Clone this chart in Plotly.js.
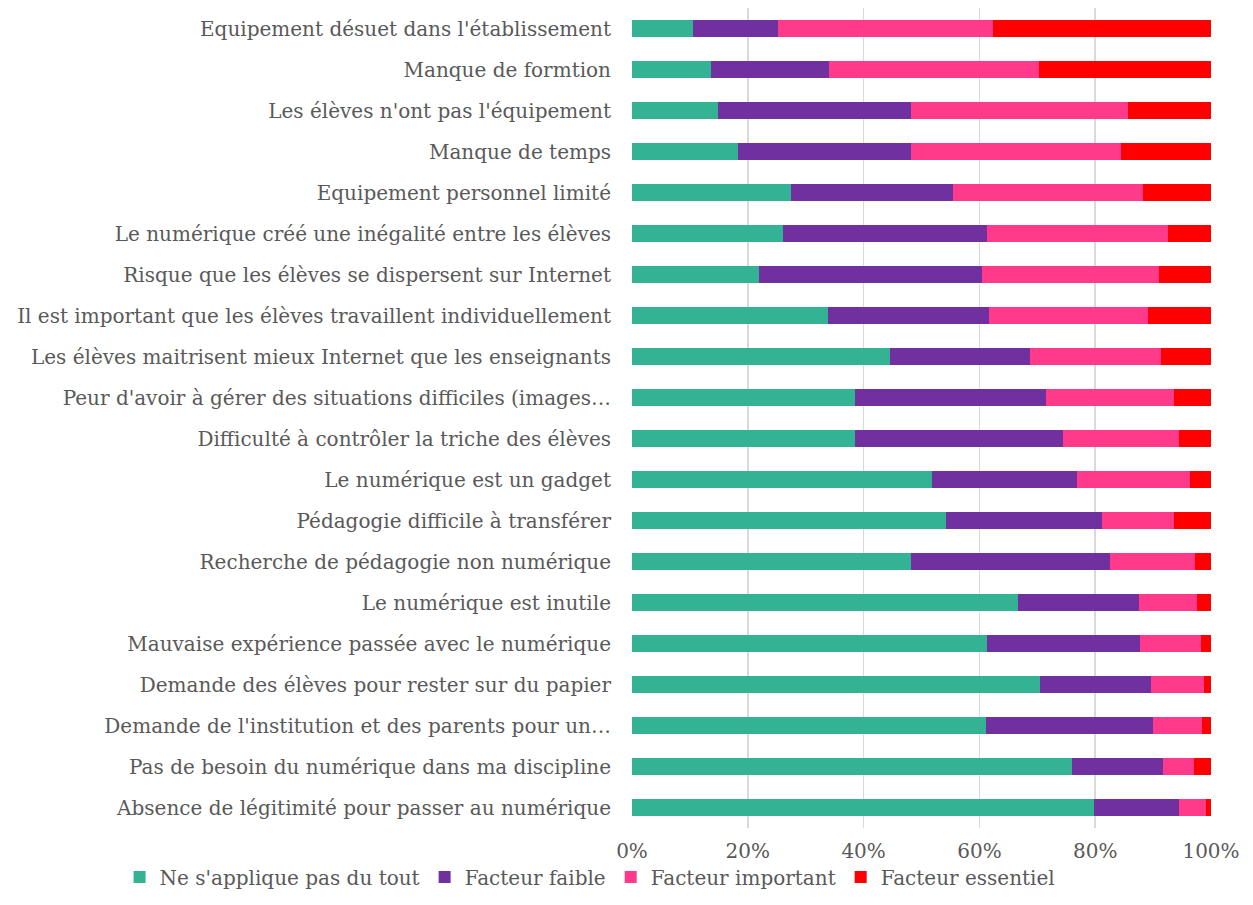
<!DOCTYPE html>
<html><head><meta charset="utf-8">
<script src="https://cdn.plot.ly/plotly-3.0.1.min.js"></script>
<style>html,body{margin:0;padding:0;background:#fff}#chart{width:1253px;height:905px}</style>
</head><body><div id="chart"></div>
<script>
const categories = [
 "Equipement désuet dans l'établissement",
 "Manque de formtion",
 "Les élèves n'ont pas l'équipement",
 "Manque de temps",
 "Equipement personnel limité",
 "Le numérique créé une inégalité entre les élèves",
 "Risque que les élèves se dispersent sur Internet",
 "Il est important que les élèves travaillent individuellement",
 "Les élèves maitrisent mieux Internet que les enseignants",
 "Peur d'avoir à gérer des situations difficiles (images…",
 "Difficulté à contrôler la triche des élèves",
 "Le numérique est un gadget",
 "Pédagogie difficile à transférer",
 "Recherche de pédagogie non numérique",
 "Le numérique est inutile",
 "Mauvaise expérience passée avec le numérique",
 "Demande des élèves pour rester sur du papier",
 "Demande de l'institution et des parents pour un…",
 "Pas de besoin du numérique dans ma discipline",
 "Absence de légitimité pour passer au numérique"
];
const neSappliquePas = [10.5,13.6,14.8,18.4,27.5,26.0,22.0,33.8,44.5,38.5,38.5,51.8,54.3,48.1,66.6,61.3,70.5,61.2,76.0,79.9];
const facteurFaible   = [14.7,20.4,33.4,29.8,27.9,35.3,38.5,27.8,24.2,33.0,36.0,25.1,26.9,34.5,20.9,26.5,19.3,28.9,15.8,14.7];
const facteurImportant= [37.2,36.3,37.5,36.3,32.8,31.2,30.5,27.5,22.6,22.2,20.0,19.4,12.4,14.6,9.9,10.5,9.1,8.4,5.3,4.6];
const facteurEssentiel= [37.6,29.6,14.4,15.6,11.8,7.5,9.0,10.9,8.6,6.4,5.6,3.7,6.4,2.8,2.5,1.7,1.2,1.6,3.0,0.9];
const seriesNames = ["Ne s'applique pas du tout","Facteur faible","Facteur important","Facteur essentiel"];
const seriesColors = ["#33B294","#7030A0","#FF3A8A","#FF0000"];
const tickVals = [0,20,40,60,80,100];
const tickText = ["0%","20%","40%","60%","80%","100%"];

const vals = [neSappliquePas,facteurFaible,facteurImportant,facteurEssentiel];
const traces = vals.map((v,i)=>({
  type:'bar', orientation:'h', name:seriesNames[i], x:v, y:categories,
  marker:{color:seriesColors[i], line:{width:0}}, hoverinfo:'x+y'
}));
const font = {family:"'DejaVu Serif', 'Liberation Serif', serif", size:20, color:'#595959'};
const layout = {
  width:1253, height:905, barmode:'stack', barnorm:'percent', bargap:0.58,
  margin:{l:632,r:42,t:8,b:77},
  paper_bgcolor:'#fff', plot_bgcolor:'#fff', font:font,
  xaxis:{range:[0,100], tickvals:tickVals, ticktext:tickText, showgrid:true, gridcolor:'#D9D9D9', gridwidth:1.5,
    zeroline:false, showline:false, ticks:'', ticklabelstandoff:9, tickfont:{size:20}, automargin:false},
  yaxis:{autorange:'reversed', type:'category', ticks:'', showgrid:false, ticklabelstandoff:20, tickfont:{size:20}, automargin:false},
  legend:{orientation:'h', x:-0.885, xanchor:'left', y:-0.0598, yanchor:'middle',
    font:{size:20}, itemwidth:30, traceorder:'normal', tracegroupgap:0, bgcolor:'rgba(0,0,0,0)'},
  showlegend:true
};
Plotly.newPlot('chart', traces, layout, {staticPlot:true});
</script></body></html>
